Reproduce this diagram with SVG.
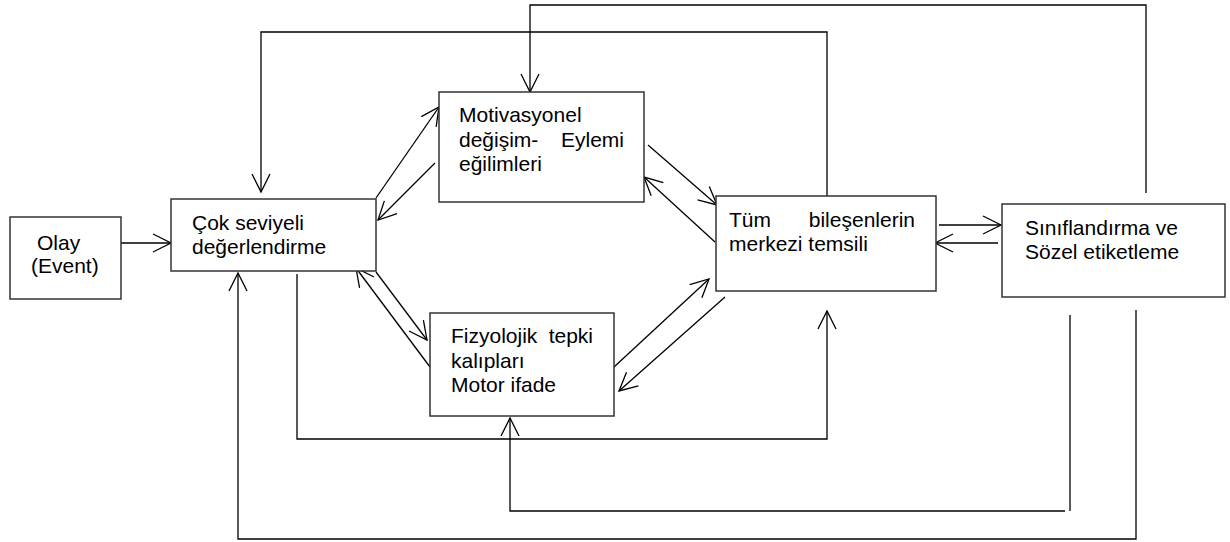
<svg xmlns="http://www.w3.org/2000/svg" width="1230" height="542" viewBox="0 0 1230 542">
<style>
.box{fill:#fff;stroke:#333;stroke-width:1.5}
.t{font-family:"Liberation Sans",Arial,sans-serif;font-size:21px;fill:#000}
.c{fill:none;stroke:#000;stroke-width:1.3}
</style>
<defs>
<marker id="ah" markerUnits="userSpaceOnUse" orient="auto" overflow="visible" markerWidth="20" markerHeight="20" refX="0" refY="0">
<path d="M-18,-9 L0,0 L-18,9" fill="none" stroke="#000" stroke-width="1.3"/>
</marker>
</defs>
<rect width="1230" height="542" fill="#fff"/>
<g id="connectors">
<path class="c" d="M121,243 H171" marker-end="url(#ah)"/>
<path class="c" d="M827,196 V32 H261 V192" marker-end="url(#ah)"/>
<path class="c" d="M1146,193 V5 H530 V92" marker-end="url(#ah)"/>
<path class="c" d="M376,198 L439,107" marker-end="url(#ah)"/>
<path class="c" d="M435,163 L378,220" marker-end="url(#ah)"/>
<path class="c" d="M648,145 L717,205" marker-end="url(#ah)"/>
<path class="c" d="M715,242 L644,177" marker-end="url(#ah)"/>
<path class="c" d="M939,225 H1001" marker-end="url(#ah)"/>
<path class="c" d="M998,243 H935" marker-end="url(#ah)"/>
<path class="c" d="M376,272 L427,340" marker-end="url(#ah)"/>
<path class="c" d="M430,367 L356,268" marker-end="url(#ah)"/>
<path class="c" d="M614,367 L709,279" marker-end="url(#ah)"/>
<path class="c" d="M725,297 L619,391" marker-end="url(#ah)"/>
<path class="c" d="M297,274 V439 H827 V311" marker-end="url(#ah)"/>
<path class="c" d="M1070,315 V511"/>
<path class="c" d="M1065,511 H510 V418" marker-end="url(#ah)"/>
<path class="c" d="M1136,310 V539 H238 V273" marker-end="url(#ah)"/>
</g>
<g id="olay">
<rect class="box" x="10" y="217" width="111" height="82"/>
<text class="t" x="37" y="250">Olay</text>
<text class="t" x="31" y="273">(Event)</text>
</g>
<g id="cok">
<rect class="box" x="171" y="199" width="205" height="72"/>
<text class="t" x="192" y="230">Çok seviyeli</text>
<text class="t" x="192" y="254">değerlendirme</text>
</g>
<g id="motivasyonel">
<rect class="box" x="439" y="92" width="205" height="110"/>
<text class="t" x="459" y="122">Motivasyonel</text>
<text class="t" x="459" y="147">değişim-</text>
<text class="t" x="624" y="147" text-anchor="end">Eylemi</text>
<text class="t" x="459" y="171">eğilimleri</text>
</g>
<g id="tum">
<rect class="box" x="716" y="196" width="220" height="95"/>
<text class="t" x="729" y="227">Tüm</text>
<text class="t" x="915" y="227" text-anchor="end">bileşenlerin</text>
<text class="t" x="729" y="251">merkezi temsili</text>
</g>
<g id="sinif">
<rect class="box" x="1002" y="204" width="223" height="93"/>
<text class="t" x="1025" y="235">Sınıflandırma ve</text>
<text class="t" x="1025" y="259">Sözel etiketleme</text>
</g>
<g id="fizyolojik">
<rect class="box" x="430" y="313" width="184" height="103"/>
<text class="t" x="451" y="343">Fizyolojik</text>
<text class="t" x="593" y="343" text-anchor="end">tepki</text>
<text class="t" x="451" y="368">kalıpları</text>
<text class="t" x="451" y="392">Motor ifade</text>
</g>
</svg>
